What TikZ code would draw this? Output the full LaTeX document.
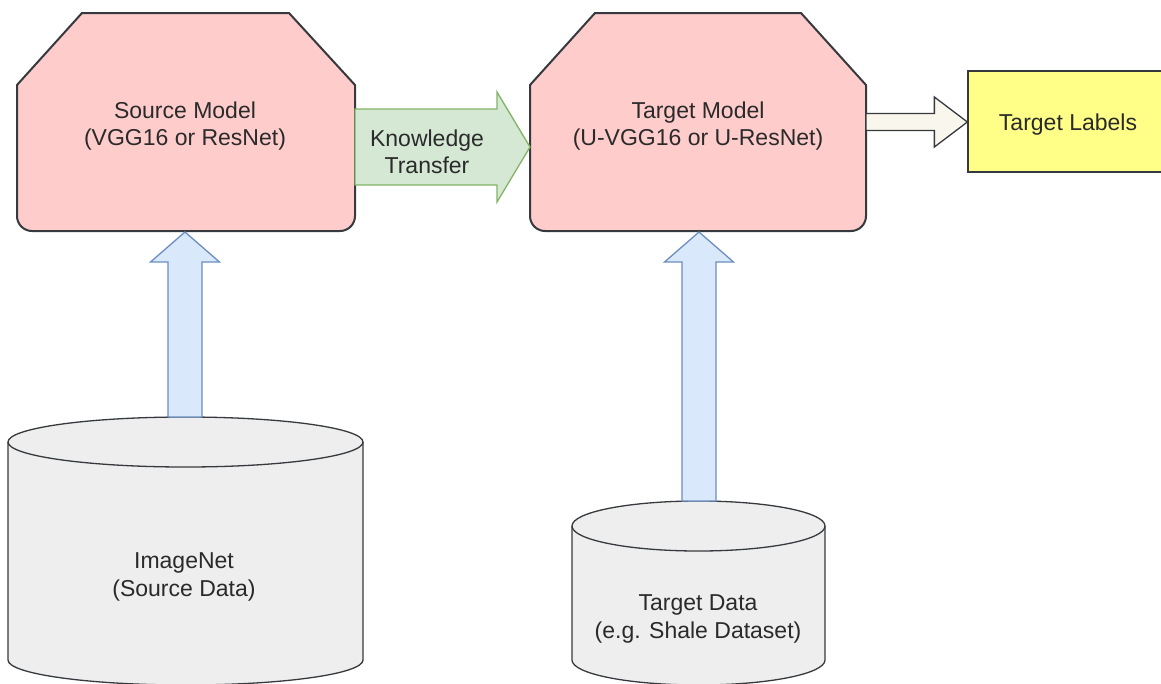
\documentclass[tikz,border=0pt]{standalone}
\usepackage{fontspec}
\setmainfont{Liberation Sans}
\usetikzlibrary{calc}
\definecolor{modelfill}{HTML}{FFCCCC}
\definecolor{darkline}{HTML}{36393D}
\definecolor{ktfill}{HTML}{D5E8D4}
\definecolor{ktline}{HTML}{82B366}
\definecolor{upfill}{HTML}{DAE8FC}
\definecolor{upline}{HTML}{6C8EBF}
\definecolor{dbfill}{HTML}{EEEEEE}
\definecolor{outfill}{HTML}{F9F7ED}
\definecolor{labfill}{HTML}{FFFF88}
\definecolor{txtcol}{HTML}{2A2A2A}
% horizontal block arrow: style, from, to, body half, head half, head length
\newcommand{\harrow}[6]{\path[#1] let \p1=(#2), \p2=(#3) in
  (\x1,\y1+#4) -- (\x2-#6,\y1+#4) -- (\x2-#6,\y1+#5) -- (\x2,\y1) --
  (\x2-#6,\y1-#5) -- (\x2-#6,\y1-#4) -- (\x1,\y1-#4) -- cycle;}
% vertical (upward) block arrow: style, from (bottom), to (top), body half, head half, head length
\newcommand{\varrow}[6]{\path[#1] let \p1=(#2), \p2=(#3) in
  (\x1-#4,\y1) -- (\x1-#4,\y2-#6) -- (\x1-#5,\y2-#6) -- (\x1,\y2) --
  (\x1+#5,\y2-#6) -- (\x1+#4,\y2-#6) -- (\x1+#4,\y1) -- cycle;}
\tikzset{
  lbl/.style={align=center, text=txtcol, font=\fontsize{23}{27.5}\selectfont, inner sep=0pt},
  modelshape/.style={fill=modelfill, draw=darkline, line width=2pt, line join=round},
  ktarrow/.style={fill=ktfill, draw=ktline, line width=1.3pt, line join=miter},
  uparrow/.style={fill=upfill, draw=upline, line width=1.3pt, line join=miter},
  outarrow/.style={fill=outfill, draw=darkline, line width=1.3pt, line join=miter},
  dbshape/.style={fill=dbfill, draw=darkline, line width=1.3pt},
  labelbox/.style={fill=labfill, draw=darkline, line width=1.3pt, minimum width=202pt, minimum height=101pt, inner sep=0pt}
}
\begin{document}
\begin{tikzpicture}[x=1pt,y=-1pt]
\useasboundingbox (0,0) rectangle (1161,683);
\fill[white] (0,0) rectangle (1161,683);

% Source model
\draw[modelshape, rounded corners=15pt] (17,150) -- (17,231) -- (355,231) -- (355,150) [sharp corners] -- (355,85) -- (289,13) -- (82,13) -- (17,85) -- cycle;
\node[lbl] (src) at (185,126) {Source Model\\(VGG16 or ResNet)};

% Target model
\draw[modelshape, rounded corners=15pt] (530,150) -- (530,231) -- (866,231) -- (866,150) [sharp corners] -- (866,85) -- (801,13) -- (595,13) -- (530,85) -- cycle;
\node[lbl] (tgt) at (698,126) {Target Model\\(U-VGG16 or U-ResNet)};

% Target labels
\node[labelbox] (labels) at (1069,121.5) {};
\node[lbl] (labtxt) at (1068,125) {Target Labels};

% Cylinders
\draw[dbshape] (8,442) -- (8,660) arc[start angle=180, end angle=0, x radius=177.5, y radius=25] -- (363,442) arc[start angle=0, end angle=-180, x radius=177.5, y radius=25] -- cycle;
\draw[darkline, line width=1.3pt] (8,442) arc[start angle=180, end angle=0, x radius=177.5, y radius=25];
\node[lbl] (imgnet) at (184,577) {ImageNet\\(Source Data)};

\draw[dbshape] (572,526) -- (572,660) arc[start angle=180, end angle=0, x radius=126.5, y radius=25] -- (825,526) arc[start angle=0, end angle=-180, x radius=126.5, y radius=25] -- cycle;
\draw[darkline, line width=1.3pt] (572,526) arc[start angle=180, end angle=0, x radius=126.5, y radius=25];
\node[lbl] (tdata) at (698,619) {Target Data\\(e.g. Shale Dataset)};

% connector end points on the shapes
\coordinate (srcE) at (355,147);
\coordinate (tgtW) at (530,147);
\coordinate (tgtE) at (866,122);
\coordinate (labW) at (labels.west |- tgtE);
\coordinate (srcS) at (185,232);
\coordinate (imgN) at (185,417);
\coordinate (tgtS) at (699,232);
\coordinate (tdN) at (699,501);

% Block arrows
\harrow{ktarrow}{srcE}{tgtW}{38pt}{55pt}{33pt}
\node[lbl] (kt) at (427,152) {Knowledge\\Transfer};
\harrow{outarrow}{tgtE}{labW}{8.5pt}{25pt}{33pt}
\varrow{uparrow}{imgN}{srcS}{17pt}{34.5pt}{30pt}
\varrow{uparrow}{tdN}{tgtS}{17pt}{34.5pt}{30pt}
\end{tikzpicture}
\end{document}
